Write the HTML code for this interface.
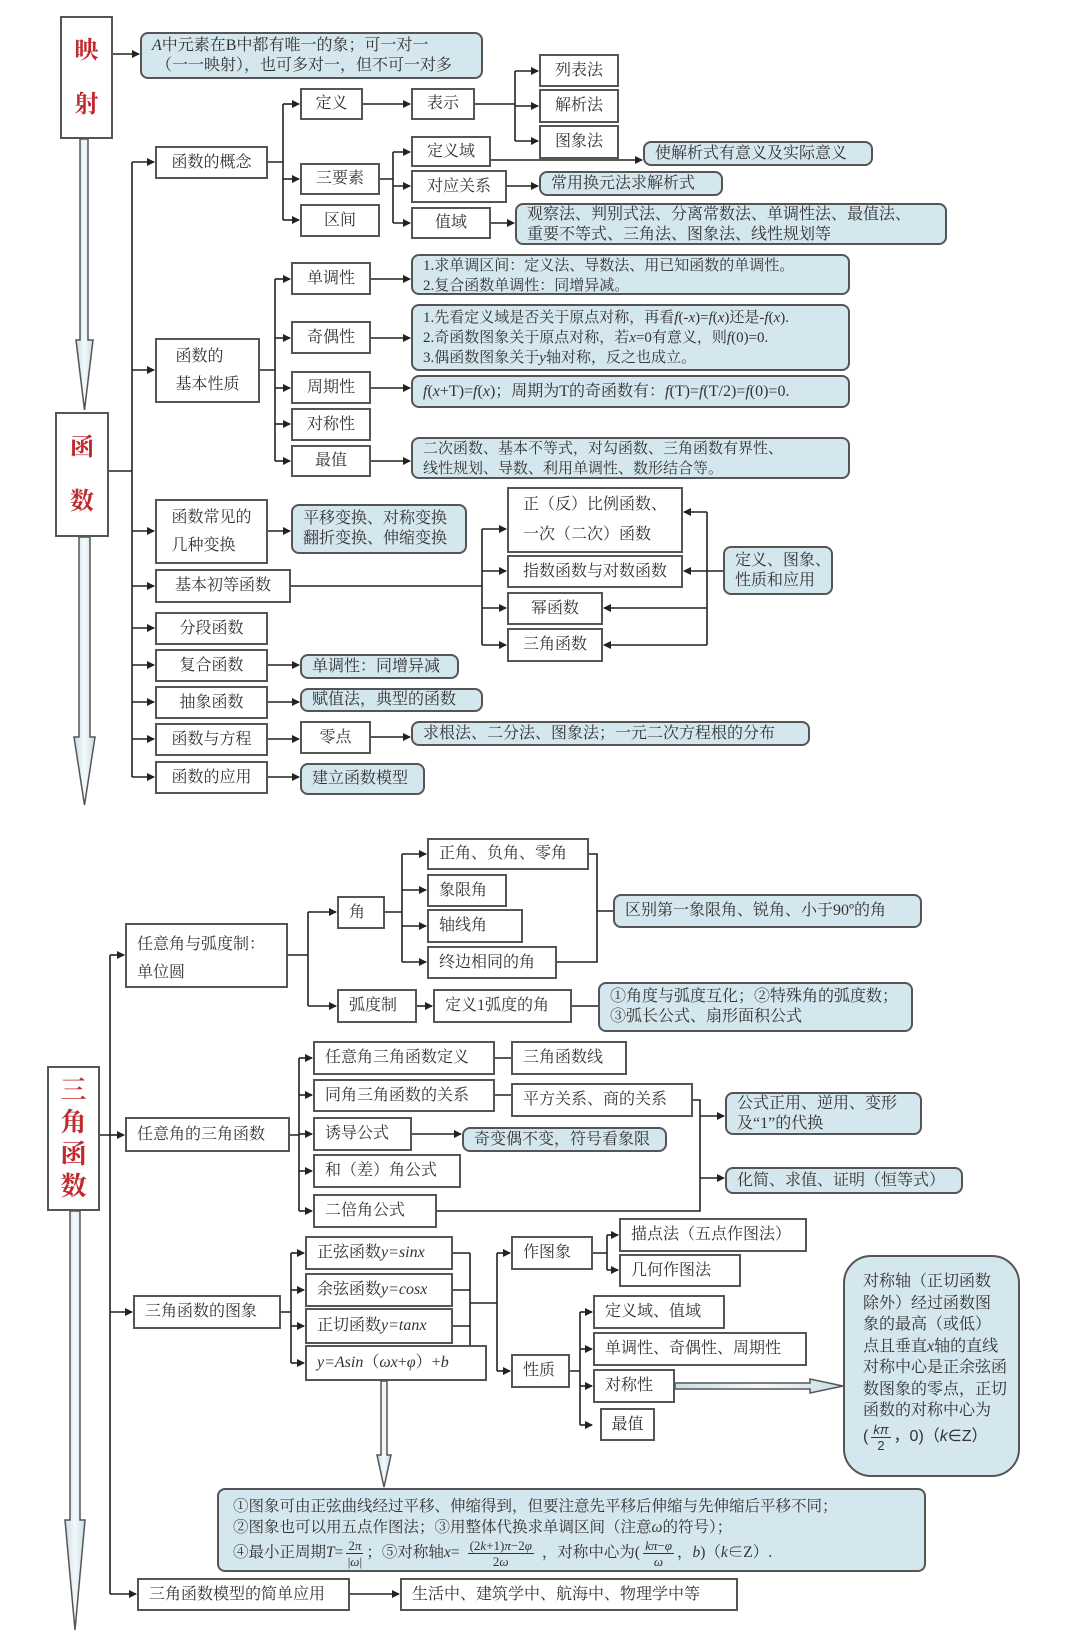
<!DOCTYPE html>
<html><head><meta charset="utf-8">
<style>
html,body{margin:0;padding:0;background:#fff;}
body{width:1080px;height:1649px;position:relative;overflow:hidden;font-family:"Liberation Serif","Noto Serif CJK SC",serif;color:#333;}
.b{position:absolute;border:2px solid #555;background:#fff;box-sizing:border-box;display:flex;align-items:center;justify-content:center;font-size:16px;white-space:nowrap;line-height:20px;}
.u{background:#d4e6ee;border-radius:8px;justify-content:flex-start;padding-left:10px;}
.s{font-size:15px;}
.l{justify-content:flex-start;padding-left:10px;}
.red{color:#c0282d;font-weight:bold;font-size:24px;flex-direction:column;}
svg{position:absolute;left:0;top:0;}
i{font-style:italic;}
.fr{display:inline-flex;flex-direction:column;align-items:center;vertical-align:middle;font-size:13px;line-height:15px;margin:0 3px;}
.fr span:first-child{border-bottom:1px solid #333;padding:0 2px;}
</style></head><body>
<svg width="1080" height="1649" viewBox="0 0 1080 1649">
<defs>
<marker id="a" markerWidth="8" markerHeight="8" refX="7" refY="4" orient="auto" markerUnits="userSpaceOnUse"><path d="M0,0 L8,4 L0,8 z" fill="#222"/></marker>
<linearGradient id="g" x1="0" x2="1"><stop offset="0" stop-color="#c8dde6"/><stop offset="0.5" stop-color="#f4f9fb"/><stop offset="1" stop-color="#c8dde6"/></linearGradient>
</defs>
<g fill="url(#g)" stroke="#555" stroke-width="1.5">
<polygon points="80,139 88,139 88,340 93,340 84.5,410 76,340 80,340"/>
<polygon points="79,537 90,537 90,737 95,737 84.5,805 74,737 79,737"/>
<polygon points="70,1211 80,1211 80,1520 85,1520 75,1630 65,1520 70,1520"/>
<polygon points="381,1381 387,1381 387,1455 391,1455 384,1487 377,1455 381,1455"/>
<polygon points="675,1383 810,1383 810,1379 843,1386 810,1393 810,1389 675,1389"/>
</g>
<g stroke="#222" stroke-width="1.6" fill="none">
<path d="M113 54 H139" marker-end="url(#a)"/>
<path d="M109 471 H132 M132 162 V777"/>
<path d="M132 162 H154" marker-end="url(#a)"/><path d="M132 370 H154" marker-end="url(#a)"/><path d="M132 531 H154" marker-end="url(#a)"/><path d="M132 586 H154" marker-end="url(#a)"/><path d="M132 628 H154" marker-end="url(#a)"/><path d="M132 665 H154" marker-end="url(#a)"/><path d="M132 702 H154" marker-end="url(#a)"/><path d="M132 739 H154" marker-end="url(#a)"/><path d="M132 777 H154" marker-end="url(#a)"/>
<path d="M268 162 H283 M283 104 V220"/>
<path d="M283 104 H299" marker-end="url(#a)"/><path d="M283 179 H299" marker-end="url(#a)"/><path d="M283 220 H299" marker-end="url(#a)"/>
<path d="M363 104 H410" marker-end="url(#a)"/>
<path d="M475 104 H515 M515 71 V141"/>
<path d="M515 71 H538" marker-end="url(#a)"/><path d="M515 106 H538" marker-end="url(#a)"/><path d="M515 141 H538" marker-end="url(#a)"/>
<path d="M380 179 H393 M393 152 V223"/>
<path d="M393 152 H410" marker-end="url(#a)"/><path d="M393 186 H410" marker-end="url(#a)"/><path d="M393 223 H410" marker-end="url(#a)"/>
<path d="M491 160 H642" marker-end="url(#a)"/>
<path d="M507 186 H538" marker-end="url(#a)"/>
<path d="M491 223 H514" marker-end="url(#a)"/>
<path d="M260 370 H275 M275 279 V461"/>
<path d="M275 279 H290" marker-end="url(#a)"/><path d="M275 338 H290" marker-end="url(#a)"/><path d="M275 388 H290" marker-end="url(#a)"/><path d="M275 424 H290" marker-end="url(#a)"/><path d="M275 461 H290" marker-end="url(#a)"/>
<path d="M371 279 H410" marker-end="url(#a)"/><path d="M371 338 H410" marker-end="url(#a)"/><path d="M371 388 H410" marker-end="url(#a)"/><path d="M371 461 H410" marker-end="url(#a)"/>
<path d="M268 531 H290" marker-end="url(#a)"/>
<path d="M291 586 H482 M482 529 V645"/>
<path d="M482 529 H506" marker-end="url(#a)"/><path d="M482 571 H506" marker-end="url(#a)"/><path d="M482 608 H506" marker-end="url(#a)"/><path d="M482 645 H506" marker-end="url(#a)"/>
<path d="M723 571 H707 M707 512 V645"/>
<path d="M707 512 H684" marker-end="url(#a)"/><path d="M707 571 H684" marker-end="url(#a)"/><path d="M707 608 H604" marker-end="url(#a)"/><path d="M707 645 H604" marker-end="url(#a)"/>
<path d="M268 665 H299" marker-end="url(#a)"/><path d="M268 702 H299" marker-end="url(#a)"/><path d="M268 739 H299" marker-end="url(#a)"/><path d="M371 737 H410" marker-end="url(#a)"/><path d="M268 777 H299" marker-end="url(#a)"/>

<path d="M100 1135 H110 M110 955 V1594"/>
<path d="M110 955 H124" marker-end="url(#a)"/><path d="M110 1135 H124" marker-end="url(#a)"/><path d="M110 1312 H132" marker-end="url(#a)"/><path d="M110 1594 H136" marker-end="url(#a)"/>
<path d="M288 955 H308 M308 912 V1006"/>
<path d="M308 912 H336" marker-end="url(#a)"/><path d="M308 1006 H336" marker-end="url(#a)"/>
<path d="M385 912 H402 M402 854 V962"/>
<path d="M402 854 H426" marker-end="url(#a)"/><path d="M402 890 H426" marker-end="url(#a)"/><path d="M402 926 H426" marker-end="url(#a)"/><path d="M402 962 H426" marker-end="url(#a)"/>
<path d="M589 854 H597 V962 H557 M597 911 H613"/>
<path d="M417 1006 H432" marker-end="url(#a)"/><path d="M572 1006 H598"/>
<path d="M290 1135 H299 M299 1058 V1211"/>
<path d="M299 1058 H312" marker-end="url(#a)"/><path d="M299 1095 H312" marker-end="url(#a)"/><path d="M299 1134 H312" marker-end="url(#a)"/><path d="M299 1171 H312" marker-end="url(#a)"/><path d="M299 1211 H312" marker-end="url(#a)"/>
<path d="M495 1058 H511 M495 1095 H511"/>
<path d="M412 1134 H461" marker-end="url(#a)"/>
<path d="M693 1100 H700 V1211 H437"/>
<path d="M700 1116 H724" marker-end="url(#a)"/><path d="M700 1178 H724" marker-end="url(#a)"/>
<path d="M281 1312 H291 M291 1253 V1363"/>
<path d="M291 1253 H304" marker-end="url(#a)"/><path d="M291 1290 H304" marker-end="url(#a)"/><path d="M291 1326 H304" marker-end="url(#a)"/><path d="M291 1363 H304" marker-end="url(#a)"/>
<path d="M453 1253 H470 M453 1290 H470 M453 1326 H470 M470 1253 V1346 M470 1303 H497 M497 1253 V1371"/>
<path d="M497 1253 H510" marker-end="url(#a)"/><path d="M497 1371 H510" marker-end="url(#a)"/>
<path d="M593 1253 H607 M607 1235 V1270"/>
<path d="M607 1235 H618" marker-end="url(#a)"/><path d="M607 1270 H618" marker-end="url(#a)"/>
<path d="M570 1371 H580 M580 1312 V1425"/>
<path d="M580 1312 H592" marker-end="url(#a)"/><path d="M580 1349 H592" marker-end="url(#a)"/><path d="M580 1386 H592" marker-end="url(#a)"/><path d="M580 1425 H592" marker-end="url(#a)"/>
<path d="M350 1594 H399" marker-end="url(#a)"/>
</g>
</svg>

<div class="b red" style="left:60px;top:16px;width:53px;height:123px;line-height:54px;">映<br>射</div>
<div class="b u" style="left:140px;top:32px;width:343px;height:47px;line-height:20px;display:block;padding-top:2px;"><i>A</i>中元素在B中都有唯一的象；可一对一<br>&nbsp;（一一映射），也可多对一，但不可一对多</div>
<div class="b red" style="left:55px;top:412px;width:54px;height:125px;line-height:54px;">函<br>数</div>

<div class="b" style="left:155px;top:146px;width:113px;height:33px;">函数的概念</div>
<div class="b" style="left:155px;top:338px;width:105px;height:65px;flex-direction:column;line-height:28px;">函数的<br>基本性质</div>
<div class="b" style="left:155px;top:499px;width:113px;height:65px;flex-direction:column;line-height:28px;">函数常见的<br>几种变换</div>
<div class="b" style="left:155px;top:569px;width:136px;height:34px;">基本初等函数</div>
<div class="b" style="left:155px;top:612px;width:113px;height:33px;">分段函数</div>
<div class="b" style="left:155px;top:649px;width:113px;height:33px;">复合函数</div>
<div class="b" style="left:155px;top:686px;width:113px;height:33px;">抽象函数</div>
<div class="b" style="left:155px;top:723px;width:113px;height:33px;">函数与方程</div>
<div class="b" style="left:155px;top:761px;width:113px;height:33px;">函数的应用</div>

<div class="b" style="left:300px;top:88px;width:63px;height:32px;">定义</div>
<div class="b" style="left:300px;top:163px;width:80px;height:32px;">三要素</div>
<div class="b" style="left:300px;top:204px;width:80px;height:33px;">区间</div>
<div class="b" style="left:411px;top:88px;width:64px;height:32px;">表示</div>
<div class="b" style="left:539px;top:54px;width:80px;height:33px;">列表法</div>
<div class="b" style="left:539px;top:89px;width:80px;height:34px;">解析法</div>
<div class="b" style="left:539px;top:125px;width:80px;height:34px;">图象法</div>
<div class="b" style="left:411px;top:136px;width:80px;height:31px;">定义域</div>
<div class="b" style="left:411px;top:170px;width:96px;height:33px;">对应关系</div>
<div class="b" style="left:411px;top:207px;width:80px;height:32px;">值域</div>
<div class="b u" style="left:643px;top:141px;width:230px;height:25px;">使解析式有意义及实际意义</div>
<div class="b u" style="left:539px;top:171px;width:184px;height:25px;">常用换元法求解析式</div>
<div class="b u" style="left:515px;top:203px;width:432px;height:42px;display:block;padding-top:0;">观察法、判别式法、分离常数法、单调性法、最值法、<br>重要不等式、三角法、图象法、线性规划等</div>

<div class="b" style="left:291px;top:262px;width:80px;height:33px;">单调性</div>
<div class="b" style="left:291px;top:321px;width:80px;height:33px;">奇偶性</div>
<div class="b" style="left:291px;top:371px;width:80px;height:33px;">周期性</div>
<div class="b" style="left:291px;top:408px;width:80px;height:33px;">对称性</div>
<div class="b" style="left:291px;top:445px;width:80px;height:32px;">最值</div>
<div class="b u s" style="left:411px;top:254px;width:439px;height:41px;display:block;">1.求单调区间：定义法、导数法、用已知函数的单调性。<br>2.复合函数单调性：同增异减。</div>
<div class="b u s" style="left:411px;top:304px;width:439px;height:67px;display:block;padding-top:2px;">1.先看定义域是否关于原点对称，再看<i>f</i>(-<i>x</i>)=<i>f</i>(<i>x</i>)还是-<i>f</i>(<i>x</i>).<br>2.奇函数图象关于原点对称，若<i>x</i>=0有意义，则<i>f</i>(0)=0.<br>3.偶函数图象关于<i>y</i>轴对称，反之也成立。</div>
<div class="b u" style="left:411px;top:375px;width:439px;height:33px;"><i>f</i>(<i>x</i>+T)=<i>f</i>(<i>x</i>)；周期为T的奇函数有：<i>f</i>(T)=<i>f</i>(T/2)=<i>f</i>(0)=0.</div>
<div class="b u s" style="left:411px;top:437px;width:439px;height:42px;display:block;">二次函数、基本不等式，对勾函数、三角函数有界性、<br>线性规划、导数、利用单调性、数形结合等。</div>

<div class="b u" style="left:291px;top:504px;width:176px;height:50px;display:block;padding-top:3px;">平移变换、对称变换<br>翻折变换、伸缩变换</div>
<div class="b" style="left:507px;top:487px;width:176px;height:66px;flex-direction:column;line-height:30px;">正（反）比例函数、<br>一次（二次）函数</div>
<div class="b" style="left:507px;top:555px;width:176px;height:33px;">指数函数与对数函数</div>
<div class="b" style="left:507px;top:592px;width:96px;height:33px;">幂函数</div>
<div class="b" style="left:507px;top:628px;width:96px;height:34px;">三角函数</div>
<div class="b u" style="left:723px;top:546px;width:110px;height:49px;display:block;padding-top:3px;">定义、图象、<br>性质和应用</div>
<div class="b u" style="left:300px;top:654px;width:159px;height:25px;">单调性：同增异减</div>
<div class="b u" style="left:300px;top:688px;width:183px;height:24px;">赋值法，典型的函数</div>
<div class="b" style="left:300px;top:721px;width:71px;height:33px;">零点</div>
<div class="b u" style="left:411px;top:721px;width:399px;height:25px;">求根法、二分法、图象法；一元二次方程根的分布</div>
<div class="b u" style="left:300px;top:763px;width:125px;height:32px;">建立函数模型</div>

<div class="b red" style="left:47px;top:1066px;width:53px;height:145px;line-height:32px;font-size:26px;">三<br>角<br>函<br>数</div>

<div class="b l" style="left:125px;top:923px;width:163px;height:65px;display:block;padding-top:6px;line-height:28px;">任意角与弧度制：<br>单位圆</div>
<div class="b l" style="left:337px;top:896px;width:48px;height:33px;">角</div>
<div class="b l" style="left:427px;top:838px;width:162px;height:32px;">正角、负角、零角</div>
<div class="b l" style="left:427px;top:874px;width:80px;height:33px;">象限角</div>
<div class="b l" style="left:427px;top:909px;width:96px;height:34px;">轴线角</div>
<div class="b l" style="left:427px;top:946px;width:130px;height:33px;">终边相同的角</div>
<div class="b u" style="left:613px;top:894px;width:309px;height:34px;">区别第一象限角、锐角、小于90º的角</div>
<div class="b l" style="left:337px;top:989px;width:80px;height:34px;">弧度制</div>
<div class="b l" style="left:433px;top:989px;width:139px;height:34px;">定义1弧度的角</div>
<div class="b u" style="left:598px;top:982px;width:315px;height:50px;display:block;padding-top:3px;">①角度与弧度互化；②特殊角的弧度数；<br>③弧长公式、扇形面积公式</div>

<div class="b l" style="left:125px;top:1117px;width:165px;height:35px;">任意角的三角函数</div>
<div class="b l" style="left:313px;top:1041px;width:182px;height:34px;">任意角三角函数定义</div>
<div class="b l" style="left:511px;top:1041px;width:116px;height:34px;">三角函数线</div>
<div class="b l" style="left:313px;top:1079px;width:182px;height:33px;">同角三角函数的关系</div>
<div class="b l" style="left:511px;top:1083px;width:182px;height:34px;">平方关系、商的关系</div>
<div class="b l" style="left:313px;top:1117px;width:99px;height:34px;">诱导公式</div>
<div class="b u" style="left:462px;top:1127px;width:205px;height:25px;">奇变偶不变，符号看象限</div>
<div class="b l" style="left:313px;top:1154px;width:148px;height:34px;">和（差）角公式</div>
<div class="b l" style="left:313px;top:1194px;width:124px;height:34px;">二倍角公式</div>
<div class="b u" style="left:725px;top:1092px;width:197px;height:43px;display:block;padding-top:0;">公式正用、逆用、变形<br>及“1”的代换</div>
<div class="b u" style="left:725px;top:1167px;width:238px;height:27px;">化简、求值、证明（恒等式）</div>

<div class="b l" style="left:133px;top:1295px;width:148px;height:34px;">三角函数的图象</div>
<div class="b l" style="left:305px;top:1236px;width:148px;height:34px;">正弦函数<i>y=sinx</i></div>
<div class="b l" style="left:305px;top:1273px;width:148px;height:34px;">余弦函数<i>y=cosx</i></div>
<div class="b l" style="left:305px;top:1308px;width:148px;height:36px;">正切函数<i>y=tanx</i></div>
<div class="b l" style="left:305px;top:1345px;width:182px;height:36px;"><i>y=Asin</i>（<i>ωx</i>+<i>φ</i>）+<i>b</i></div>
<div class="b l" style="left:511px;top:1236px;width:82px;height:34px;">作图象</div>
<div class="b l" style="left:511px;top:1354px;width:59px;height:34px;">性质</div>
<div class="b l" style="left:619px;top:1218px;width:188px;height:34px;">描点法（五点作图法）</div>
<div class="b l" style="left:619px;top:1254px;width:122px;height:33px;">几何作图法</div>
<div class="b l" style="left:593px;top:1295px;width:132px;height:34px;">定义域、值域</div>
<div class="b l" style="left:593px;top:1332px;width:214px;height:34px;">单调性、奇偶性、周期性</div>
<div class="b l" style="left:593px;top:1369px;width:82px;height:34px;">对称性</div>
<div class="b" style="left:600px;top:1408px;width:55px;height:33px;">最值</div>

<div class="b u" style="left:843px;top:1255px;width:177px;height:222px;border-radius:28px;display:block;padding:14px 0 0 18px;font-size:16px;line-height:21.5px;overflow:hidden;">对称轴（正切函数<br>除外）经过函数图<br>象的最高（或低）<br>点且垂直<i>x</i>轴的直线<br>对称中心是正余弦函<br>数图象的零点，正切<br>函数的对称中心为<br><span style="font-family:'Liberation Sans',sans-serif;">(<span class="fr"><span><i>kπ</i></span><span>2</span></span>，0)（<i>k</i>∈Z）</span></div>

<div class="b u" style="left:217px;top:1488px;width:709px;height:84px;display:block;padding:6px 0 0 14px;line-height:21px;font-size:15.5px;">①图象可由正弦曲线经过平移、伸缩得到，但要注意先平移后伸缩与先伸缩后平移不同；<br>②图象也可以用五点作图法；③用整体代换求单调区间（注意<i>ω</i>的符号）；<br>④最小正周期<i>T</i>=<span class="fr"><span>2<i>π</i></span><span>|<i>ω</i>|</span></span>；⑤对称轴<i>x</i>=<span class="fr" style="margin:0 8px;"><span>(2<i>k</i>+1)<i>π</i>−2<i>φ</i></span><span>2<i>ω</i></span></span>，对称中心为(<span class="fr"><span><i>kπ</i>−<i>φ</i></span><span><i>ω</i></span></span>，<i>b</i>)（<i>k</i>∈Z）.</div>

<div class="b l" style="left:137px;top:1578px;width:213px;height:33px;">三角函数模型的简单应用</div>
<div class="b l" style="left:400px;top:1578px;width:338px;height:33px;">生活中、建筑学中、航海中、物理学中等</div>
</body></html>
